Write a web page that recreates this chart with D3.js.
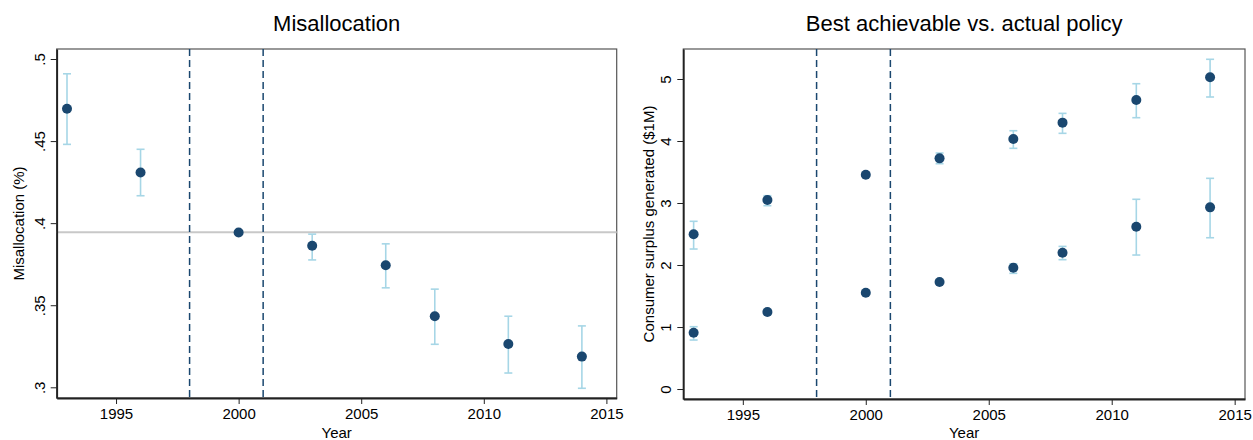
<!DOCTYPE html>
<html>
<head>
<meta charset="utf-8">
<script src="https://cdn.jsdelivr.net/npm/d3@7"></script>
<style>
  body { margin: 0; background: #fff; }
  svg { font-family: "Liberation Sans", Arial, Helvetica, sans-serif; }
</style>
</head>
<body>
<div id="chart"></div>
<script>
// Survey years
const years = [1993, 1996, 2000, 2003, 2006, 2008, 2011, 2014];

// Left panel: misallocation with confidence bands
const misalloc   = [0.4697, 0.4309, 0.3943, 0.3862, 0.3744, 0.3433, 0.3264, 0.3187];
const misallocLo = [0.448, 0.4167, null, 0.3776, 0.3606, 0.3262, 0.3087, 0.2994];
const misallocHi = [0.491, 0.445, null, 0.3933, 0.3874, 0.3598, 0.3433, 0.3374];
const misallocRef = 0.3945;

// Right panel: best achievable vs actual policy
const bestVal = [2.495, 3.048, 3.456, 3.72, 4.032, 4.296, 4.661, 5.027];
const bestLo  = [2.258, 2.957, null, 3.634, 3.882, 4.124, 4.376, 4.71];
const bestHi  = [2.705, 3.118, null, 3.806, 4.166, 4.446, 4.924, 5.318];

const actualVal = [0.908, 1.242, 1.553, 1.726, 1.957, 2.199, 2.618, 2.93];
const actualLo  = [0.79, 1.2, null, null, 1.866, 2.086, 2.161, 2.44];
const actualHi  = [1.005, 1.28, null, null, 2.02, 2.30, 3.06, 3.398];

// Policy-change markers and ticks
const policyYears = [1998, 2001];
const xTicks = [1995, 2000, 2005, 2010, 2015];
const leftTicks = [0.3, 0.35, 0.4, 0.45, 0.5];
const rightTicks = [0, 1, 2, 3, 4, 5];

const navy = "#1a476f";
const ciColor = "#a6d6e6";

const svg = d3.select("#chart").append("svg").attr("width", 1253).attr("height", 440);

function drawPanel(p) {
    const x = d3.scaleLinear().domain([1992.58, 2015.42]).range([p.x0, p.x1]);
    const y = d3.scaleLinear().domain(p.yDomain).range([p.y1, p.y0]);
    const g = svg.append("g");

    // title
    g.append("text")
        .attr("x", (p.x0 + p.x1) / 2).attr("y", 31)
        .attr("text-anchor", "middle").attr("font-size", "22px").attr("fill", "#000")
        .text(p.title);

    // plot region outline
    g.append("rect")
        .attr("x", p.x0).attr("y", p.y0)
        .attr("width", p.x1 - p.x0).attr("height", p.y1 - p.y0)
        .attr("fill", "none").attr("stroke", "#555").attr("stroke-width", 1.2);

    // reference line
    if (p.ref != null) {
        g.append("line")
            .attr("x1", p.x0).attr("x2", p.x1)
            .attr("y1", y(p.ref)).attr("y2", y(p.ref))
            .attr("stroke", "#c8c8c8").attr("stroke-width", 2);
    }

    // policy lines
    g.selectAll(".vline").data(policyYears).enter().append("line")
        .attr("x1", d => x(d)).attr("x2", d => x(d))
        .attr("y1", p.y0).attr("y2", p.y1)
        .attr("stroke", navy).attr("stroke-width", 1.5)
        .attr("stroke-dasharray", "7,4");

    // axes
    const xAxis = g.append("g")
        .attr("transform", `translate(0,${p.y1})`)
        .call(d3.axisBottom(x).tickValues(xTicks).tickFormat(d3.format("d"))
            .tickSizeInner(6).tickSizeOuter(0).tickPadding(4));
    xAxis.select(".domain").attr("stroke", "#222").attr("stroke-width", 1.8);
    xAxis.selectAll(".tick line").attr("stroke", "#222").attr("stroke-width", 1);
    xAxis.selectAll("text").attr("font-size", "15px").attr("fill", "#000")
        .attr("font-family", "Liberation Sans, Arial, sans-serif");

    const yAxis = g.append("g")
        .attr("transform", `translate(${p.x0},0)`)
        .call(d3.axisLeft(y).tickValues(p.yTicks).tickFormat(p.fmt)
            .tickSizeInner(6).tickSizeOuter(0));
    yAxis.select(".domain").attr("stroke", "#222").attr("stroke-width", 1.8);
    yAxis.selectAll(".tick line").attr("stroke", "#222").attr("stroke-width", 1);
    yAxis.selectAll("text")
        .attr("font-size", "15px").attr("fill", "#000")
        .attr("font-family", "Liberation Sans, Arial, sans-serif")
        .attr("x", null).attr("dy", null)
        .attr("text-anchor", "middle")
        .attr("transform", "translate(-12,0) rotate(-90)");

    // axis titles
    g.append("text")
        .attr("x", (p.x0 + p.x1) / 2).attr("y", 438)
        .attr("text-anchor", "middle").attr("font-size", "15px").attr("fill", "#000")
        .text("Year");
    g.append("text")
        .attr("transform", `translate(${p.labelX},${(p.y0 + p.y1) / 2}) rotate(-90)`)
        .attr("text-anchor", "middle").attr("font-size", "15px").attr("fill", "#000")
        .text(p.yLabel);

    // series: error bars then markers
    p.series.forEach(s => {
        const rows = years.map((yr, i) => ({ yr, v: s.val[i], lo: s.lo[i], hi: s.hi[i] }));
        const withCI = rows.filter(d => d.lo != null && d.hi != null);
        const ci = g.append("g").attr("stroke", ciColor).attr("stroke-width", 1.6);
        ci.selectAll(".bar").data(withCI).enter().append("line")
            .attr("x1", d => x(d.yr)).attr("x2", d => x(d.yr))
            .attr("y1", d => y(d.lo)).attr("y2", d => y(d.hi));
        ci.selectAll(".capLo").data(withCI).enter().append("line")
            .attr("x1", d => x(d.yr) - 4).attr("x2", d => x(d.yr) + 4)
            .attr("y1", d => y(d.lo)).attr("y2", d => y(d.lo));
        ci.selectAll(".capHi").data(withCI).enter().append("line")
            .attr("x1", d => x(d.yr) - 4).attr("x2", d => x(d.yr) + 4)
            .attr("y1", d => y(d.hi)).attr("y2", d => y(d.hi));
        g.selectAll(null).data(rows).enter().append("circle")
            .attr("cx", d => x(d.yr)).attr("cy", d => y(d.v))
            .attr("r", 5).attr("fill", navy);
    });
}

drawPanel({
    title: "Misallocation",
    yLabel: "Misallocation (%)",
    x0: 56.7, x1: 616.7, y0: 49, y1: 398,
    yDomain: [0.29348, 0.50610],
    yTicks: leftTicks,
    fmt: d => d3.format(".2~f")(d).replace(/^0/, ""),
    labelX: 24,
    ref: misallocRef,
    series: [{ val: misalloc, lo: misallocLo, hi: misallocHi }]
});

drawPanel({
    title: "Best achievable vs. actual policy",
    yLabel: "Consumer surplus generated ($1M)",
    x0: 683.3, x1: 1245, y0: 49, y1: 399,
    yDomain: [-0.161, 5.484],
    yTicks: rightTicks,
    fmt: d3.format("d"),
    labelX: 654,
    ref: null,
    series: [
        { val: bestVal, lo: bestLo, hi: bestHi },
        { val: actualVal, lo: actualLo, hi: actualHi }
    ]
});
</script>
</body>
</html>
